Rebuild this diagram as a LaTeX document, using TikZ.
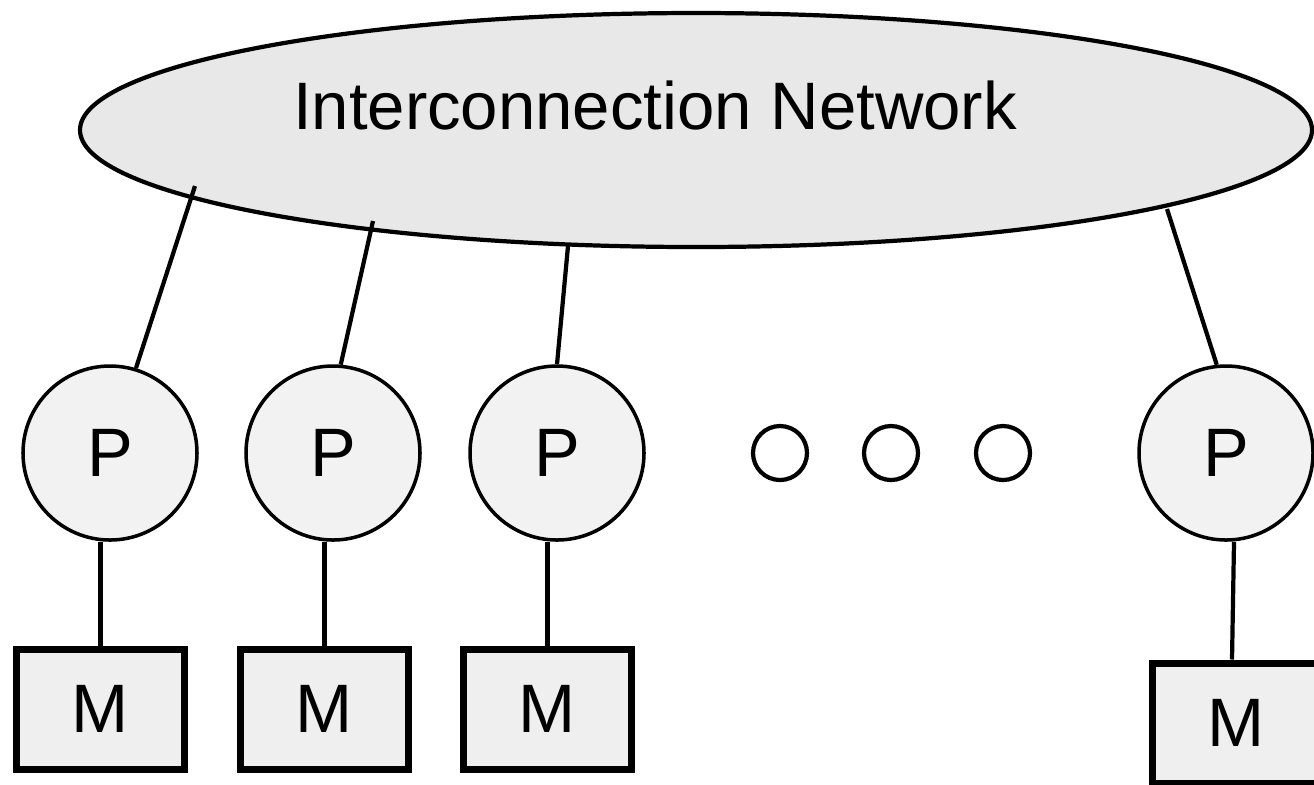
\documentclass[tikz,border=0pt]{standalone}
\usepackage{fontspec}
\setmainfont{Liberation Sans}
\usetikzlibrary{shapes.geometric}
\definecolor{netfill}{HTML}{E8E8E8}
\definecolor{pfill}{HTML}{F2F2F2}
\definecolor{mfill}{HTML}{EFEFEF}
\begin{document}
\begin{tikzpicture}[
  netshape/.style={ellipse, draw, line width=1.2pt, fill=netfill, minimum width=12.32cm, minimum height=2.34cm, inner sep=0pt},
  proc/.style={circle, draw, line width=1.0pt, fill=pfill, minimum size=1.74cm, inner sep=0pt, font=\fontsize{19.5}{24}\selectfont},
  mem/.style={rectangle, draw, line width=2pt, fill=mfill, minimum width=1.68cm, minimum height=1.2cm, inner sep=0pt, font=\fontsize{19.5}{24}\selectfont},
  dot/.style={circle, draw, line width=1.2pt, fill=white, minimum size=0.54cm, inner sep=0pt},
  link/.style={line width=1.2pt},
  plink/.style={line width=1.5pt}
]
\useasboundingbox (0,0) rectangle (13.14,-7.84);
\clip (0,0) rectangle (13.14,-7.84);
\node[netshape] (net) at (6.96,-1.30) {};
\node[font=\fontsize{19.1}{24}\selectfont] (nettext) at (6.55,-1.05) {Interconnection Network};

\coordinate (e1) at (1.95,-1.86);
\coordinate (e2) at (3.73,-2.21);
\coordinate (e3) at (5.68,-2.46);
\coordinate (e4) at (11.67,-2.09);

\node[proc] (p1) at (1.10,-4.53) {P};
\node[proc] (p2) at (3.33,-4.53) {P};
\node[proc] (p3) at (5.57,-4.53) {P};
\node[proc] (p4) at (12.26,-4.53) {P};

\node[dot] (d1) at (7.80,-4.53) {};
\node[dot] (d2) at (8.91,-4.53) {};
\node[dot] (d3) at (10.03,-4.53) {};

\node[mem] (m1) at (1.005,-7.09) {M};
\node[mem] (m2) at (3.245,-7.09) {M};
\node[mem] (m3) at (5.475,-7.09) {M};
\node[mem] (m4) at (12.36,-7.23) {M};

\draw[link] (e1) -- (p1.73);
\draw[link] (e2) -- (p2.85);
\draw[link] (e3) -- (p3.90);
\draw[link] (e4) -- (p4.96);

\draw[plink] (m1.north) -- (m1.north |- p1.south);
\draw[plink] (m2.north) -- (m2.north |- p2.south);
\draw[plink] (m3.north) -- (m3.north |- p3.south);
\draw[link] ([xshift=-0.04cm]m4.north) -- ([xshift=-0.02cm]m4.north |- p4.south);
\end{tikzpicture}
\end{document}
